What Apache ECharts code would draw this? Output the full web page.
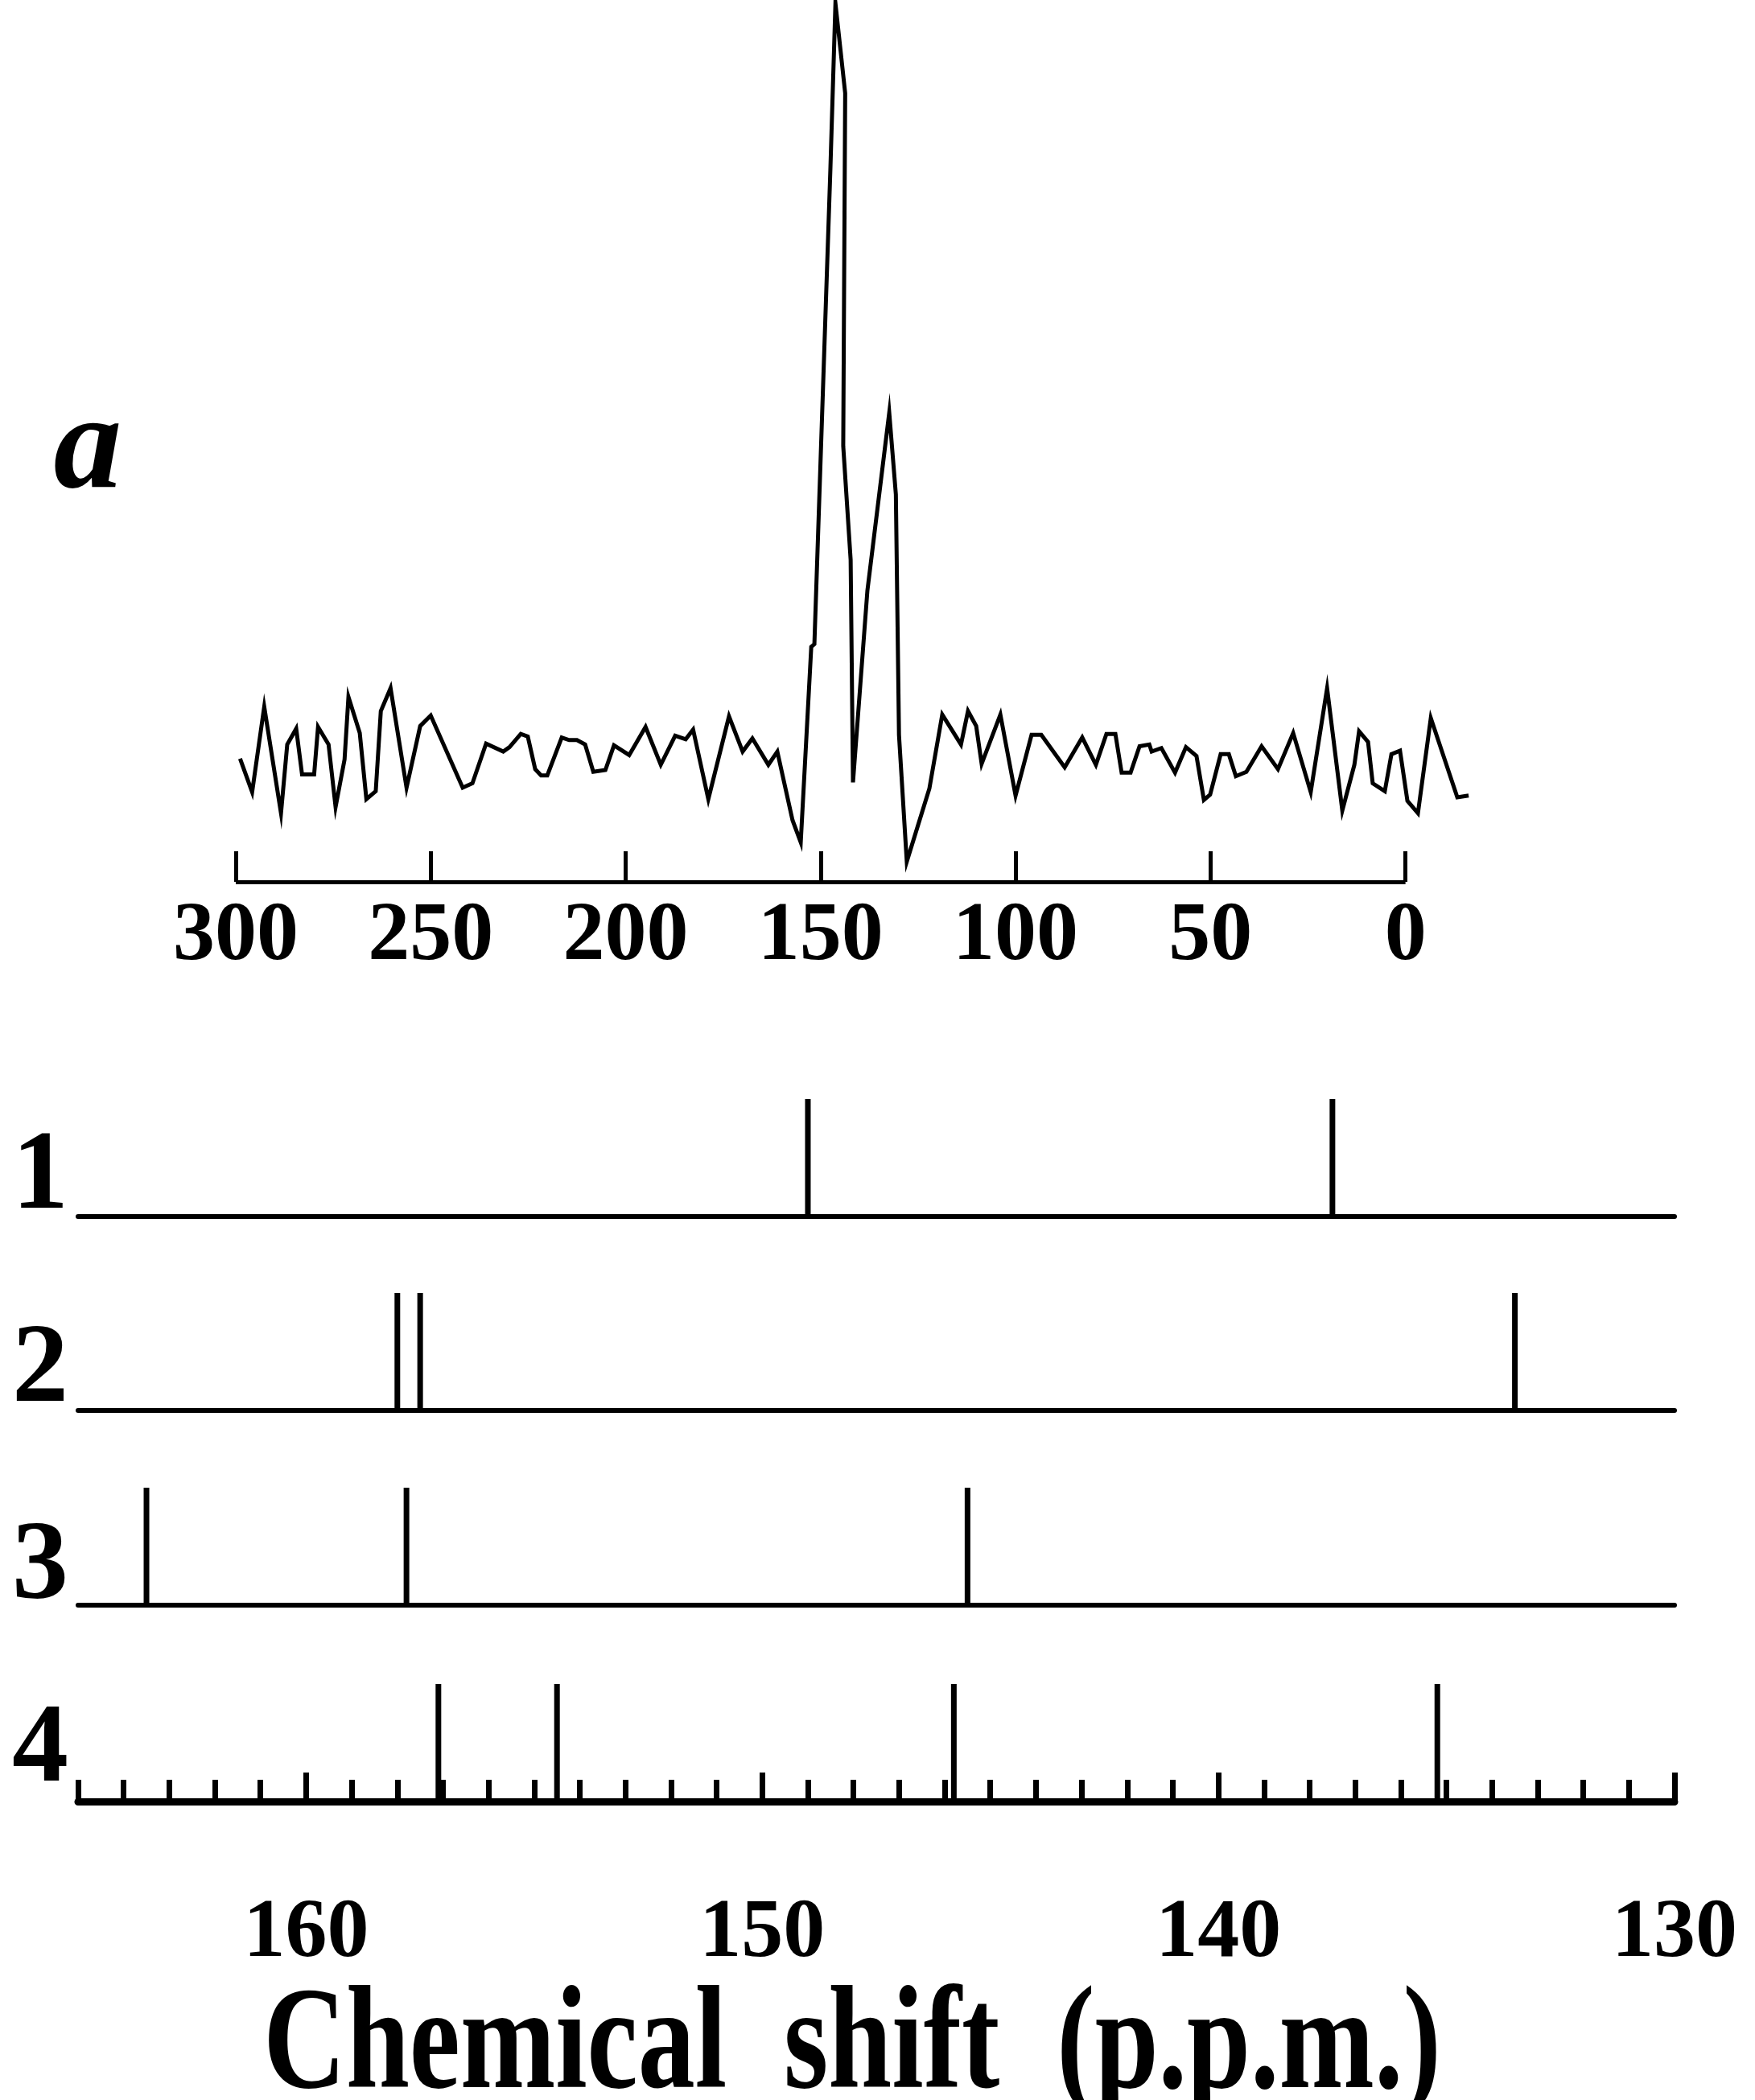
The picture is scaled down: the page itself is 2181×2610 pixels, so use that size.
<!DOCTYPE html>
<html>
<head>
<meta charset="utf-8">
<title>Chemical shift</title>
<script src="https://cdn.jsdelivr.net/npm/echarts@6/dist/echarts.min.js"></script>
<style>
  html, body { margin: 0; padding: 0; background: #fff; }
  #chart { width: 2181px; height: 2610px; }
</style>
</head>
<body>
<div id="chart"></div>
<script>
// spectrum a (chemical shift in ppm, intensity in % of the top of the plot)
const spectrumShift = [
  298.9, 295.8, 292.7, 288.4, 286.8, 284.5, 283.0, 279.9, 278.9, 276.2,
  274.4, 272.1, 271.1, 268.2, 266.5, 264.1, 262.8, 260.3, 256.2, 252.7,
  250.0, 241.8, 239.3, 235.8, 231.4, 229.8, 226.9, 225.1, 223.2, 221.7,
  220.1, 216.4, 214.5, 212.5, 210.4, 208.3, 205.2, 203.0, 199.1, 194.9,
  191.0, 187.3, 184.6, 182.7, 178.8, 173.5, 170.0, 167.5, 163.4, 161.1,
  157.2, 155.1, 152.4, 151.6, 147.5, 146.2, 143.7, 144.2, 142.3, 141.7,
  138.0, 132.4, 130.7, 129.9, 127.9, 122.1, 118.8, 114.0, 112.2, 110.1,
  108.7, 103.9, 100.0, 95.9, 93.4, 87.4, 82.9, 79.4, 76.7, 74.4,
  72.8, 70.5, 68.2, 65.7, 65.1, 62.6, 59.1, 56.3, 53.6, 51.7,
  50.1, 47.4, 45.3, 43.5, 40.8, 36.9, 32.7, 28.8, 24.3, 20.1,
  16.2, 13.1, 11.9, 9.6, 8.4, 5.3, 3.6, 1.4, -0.5, -3.2,
  -6.5, -13.3, -16.2
]
const spectrumIntensity = [
  14.0, 10.2, 19.9, 7.8, 15.6, 17.4, 12.2, 12.2, 17.6, 15.6,
  8.5, 13.9, 21.0, 16.9, 9.4, 10.3, 19.4, 22.0, 10.7, 17.7,
  18.9, 10.7, 11.2, 15.7, 14.8, 15.3, 16.8, 16.5, 12.8, 12.1,
  12.1, 16.4, 16.1, 16.1, 15.6, 12.5, 12.7, 15.5, 14.4, 17.6,
  13.3, 16.6, 16.2, 17.3, 9.4, 18.8, 14.8, 16.3, 13.3, 14.8,
  7.0, 4.5, 26.7, 27.0, 80.9, 99.8, 89.6, 49.5, 36.6, 11.3,
  33.1, 53.3, 44.0, 16.7, 2.3, 10.6, 19.0, 15.6, 19.4, 17.7,
  13.4, 19.0, 9.8, 16.7, 16.7, 13.0, 16.4, 13.3, 16.8, 16.8,
  12.4, 12.4, 15.4, 15.6, 14.8, 15.2, 12.4, 15.3, 14.3, 9.3,
  9.9, 14.5, 14.5, 12.0, 12.5, 15.4, 12.8, 16.9, 10.2, 22.0,
  8.1, 13.3, 17.1, 15.9, 11.2, 10.3, 14.5, 14.9, 9.2, 7.8,
  18.6, 9.6, 9.8
]
const topTickValues = [300, 250, 200, 150, 100, 50, 0]

// stick spectra 1-4 (ppm)
const row1Shift = [149.0, 137.5]
const row2Shift = [158.0, 157.5, 133.5]
const row3Shift = [163.5, 157.8, 145.5]
const row4Shift = [157.1, 154.5, 145.8, 135.2]
const rowLabels = ['1', '2', '3', '4']
const bottomTickValues = [160, 150, 140, 130]

const SERIF = '"Liberation Serif", "Times New Roman", serif'
const rows = [row1Shift, row2Shift, row3Shift, row4Shift]
const rowBase = [1512, 1753, 1995, 2239]
const rowLabelY = [1465, 1705, 1950, 2177]
const stickHeight = 146

const chart = echarts.init(document.getElementById('chart'))

// top grid runs a bit past 0 ppm so the trace tail fits; the drawn axis stops at 0
const grids = [{ left: 293, width: 1536, top: 2, height: 1094, outerBoundsMode: 'none' }]
rowBase.forEach(base => {
  grids.push({ left: 97, width: 1984, top: base - stickHeight, height: stickHeight, outerBoundsMode: 'none' })
})

const xAxes = [{
  type: 'value',
  gridIndex: 0,
  min: -17,
  max: 300,
  inverse: true,
  position: 'bottom',
  splitLine: { show: false },
  axisLine: { show: false },
  axisTick: {
    show: true,
    inside: true,
    length: 38,
    customValues: topTickValues,
    lineStyle: { color: '#000', width: 5 }
  },
  axisLabel: {
    customValues: topTickValues,
    margin: 17,
    color: '#000',
    fontFamily: SERIF,
    fontWeight: 'bold',
    fontSize: 104
  }
}]
for (let i = 0; i < 3; i++) {
  xAxes.push({
    type: 'value',
    gridIndex: i + 1,
    min: 130,
    max: 165,
    inverse: true,
    position: 'bottom',
    splitLine: { show: false },
    axisLine: { lineStyle: { color: '#000', width: 6 } },
    axisTick: { show: false },
    axisLabel: { show: false }
  })
}
// row 4 carries the ppm scale: short ticks every 1 ppm ...
xAxes.push({
  type: 'value',
  gridIndex: 4,
  min: 130,
  max: 165,
  interval: 1,
  inverse: true,
  position: 'bottom',
  splitLine: { show: false },
  axisLine: { lineStyle: { color: '#000', width: 9 } },
  axisTick: { inside: true, length: 27, lineStyle: { color: '#000', width: 7 } },
  axisLabel: { show: false }
})
// ... and long ticks with labels every 10 ppm
xAxes.push({
  type: 'value',
  gridIndex: 4,
  min: 130,
  max: 165,
  inverse: true,
  position: 'bottom',
  splitLine: { show: false },
  axisLine: { show: false },
  axisTick: {
    show: true,
    inside: true,
    length: 36,
    customValues: bottomTickValues,
    lineStyle: { color: '#000', width: 7 }
  },
  axisLabel: {
    customValues: bottomTickValues,
    margin: 113,
    color: '#000',
    fontFamily: SERIF,
    fontWeight: 'bold',
    fontSize: 104
  }
})

const yAxes = [{ type: 'value', gridIndex: 0, min: 0, max: 100, show: false }]
for (let i = 0; i < 4; i++) {
  yAxes.push({ type: 'value', gridIndex: i + 1, min: 0, max: 1, show: false })
}

const series = [{
  type: 'line',
  xAxisIndex: 0,
  yAxisIndex: 0,
  data: spectrumShift.map((x, i) => [x, spectrumIntensity[i]]),
  showSymbol: false,
  symbol: 'none',
  lineStyle: { color: '#000', width: 5, join: 'miter', miterLimit: 20 },
  // ppm baseline of the top trace, from 300 to 0 only
  markLine: {
    silent: true,
    symbol: 'none',
    label: { show: false },
    lineStyle: { color: '#000', width: 5, type: 'solid' },
    data: [[
      { coord: [topTickValues[0], 0] },
      { coord: [topTickValues[topTickValues.length - 1], 0] }
    ]]
  }
}]
rows.forEach((shifts, i) => {
  series.push({
    type: 'bar',
    xAxisIndex: i + 1,
    yAxisIndex: i + 1,
    barWidth: 7,
    itemStyle: { color: '#000' },
    data: shifts.map(x => [x, 1])
  })
})

const textStyle = (text, font) => ({
  text: text,
  font: font,
  fill: '#000',
  align: 'center',
  textAlign: 'center',
  verticalAlign: 'middle',
  textVerticalAlign: 'middle'
})

const graphics = [{
  type: 'text',
  x: 109,
  y: 561,
  style: textStyle('a', 'italic bold 170px ' + SERIF)
}, {
  type: 'text',
  x: 1059,
  y: 2547,
  scaleY: 1.28,
  style: textStyle('Chemical  shift  (p.p.m.)', 'bold 142px ' + SERIF)
}]
rowLabels.forEach((label, i) => {
  graphics.push({
    type: 'text',
    x: 50,
    y: rowLabelY[i],
    style: textStyle(label, 'bold 140px ' + SERIF)
  })
})

chart.setOption({
  animation: false,
  backgroundColor: '#fff',
  grid: grids,
  xAxis: xAxes,
  yAxis: yAxes,
  series: series,
  graphic: graphics
})
</script>
</body>
</html>
